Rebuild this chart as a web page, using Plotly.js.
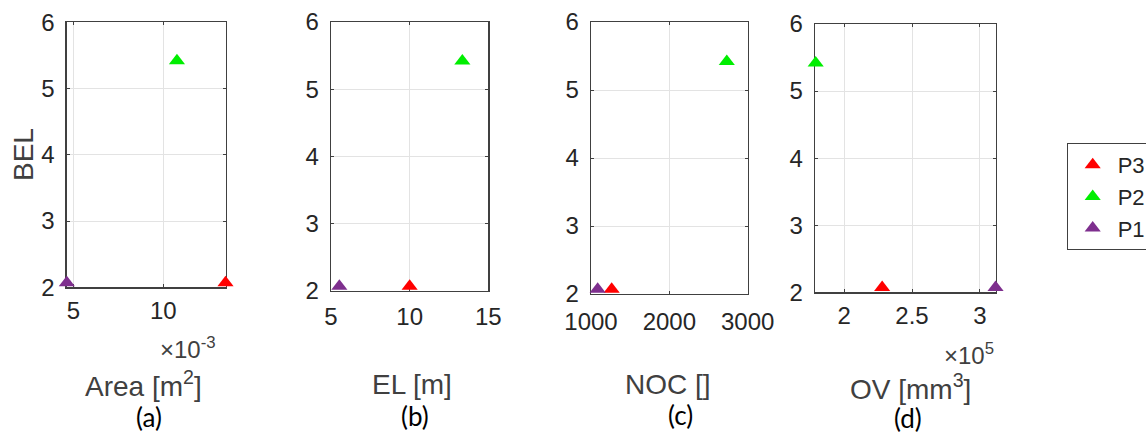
<!DOCTYPE html>
<html>
<head>
<meta charset="utf-8">
<script src="https://cdn.plot.ly/plotly-3.0.1.min.js"></script>
<style>html,body{margin:0;padding:0;background:#fff;}#chart{width:1146px;height:434px;}</style>
</head>
<body>
<div id="chart"></div>
<script>
// ---- data ----
const seriesNames = ['P3', 'P2', 'P1'];
const seriesColors = ['#ff0000', '#00ee00', '#7e2f8e'];
const bel = [2.07, 5.42, 2.07];
const area = [0.01346, 0.01076, 0.00464];     // m^2
const el = [10.0, 13.35, 5.53];               // m
const noc = [1264, 2733, 1085];               // []
const ov = [228000, 179000, 311600];          // mm^3
const yTicks = [2, 3, 4, 5, 6];
const areaTickVals = [0.005, 0.010];
const areaTickText = ['5', '10'];
const elTicks = [5, 10, 15];
const nocTicks = [1000, 2000, 3000];
const ovTickVals = [200000, 250000, 300000];
const ovTickText = ['2', '2.5', '3'];
const xTitles = ['Area [m<sup>2</sup>]', 'EL [m]', 'NOC []', 'OV [mm<sup>3</sup>]'];
const panelLabels = ['(a)', '(b)', '(c)', '(d)'];
const yTitle = 'BEL';

// ---- layout geometry (pixels) ----
const W = 1146, H = 434;
const px = v => v / W;
const py = v => 1 - v / H;
const boxes = [
  {x0: 66.7, x1: 225.7, y0: 22.3, y1: 287.3},
  {x0: 331,  x1: 488.3, y0: 22,   y1: 291},
  {x0: 591,  x1: 747.7, y0: 22,   y1: 294},
  {x0: 815,  x1: 995.7, y0: 24,   y1: 292.3}
];
const xData = [area, el, noc, ov];

const traces = [];
for (let p = 0; p < 4; p++) {
  for (let s = 0; s < seriesNames.length; s++) {
    traces.push({
      type: 'scatter', mode: 'markers',
      x: [xData[p][s]], y: [bel[s]],
      name: seriesNames[s],
      showlegend: p === 0,
      xaxis: p === 0 ? 'x' : 'x' + (p + 1),
      yaxis: p === 0 ? 'y' : 'y' + (p + 1),
      cliponaxis: false,
      marker: {symbol: 'triangle-up', size: 14, color: seriesColors[s], line: {width: 0}}
    });
  }
}

const tickFont = {family: 'Liberation Sans, Arial, sans-serif', size: 24, color: '#262626'};
const baseAxis = {
  showline: true, linecolor: '#404040', linewidth: 1.3, mirror: 'ticks',
  ticks: 'inside', ticklen: 3, tickcolor: '#404040', tickwidth: 1,
  showgrid: true, gridcolor: '#e3e3e3', gridwidth: 1,
  zeroline: false, tickfont: tickFont, fixedrange: true, layer: 'below traces'
};
const xRanges = [[0.004633, 0.01347], [5, 15], [1000, 3000], [178500, 311700]];
const xTickSpec = [
  {tickmode: 'array', tickvals: areaTickVals, ticktext: areaTickText},
  {tickmode: 'array', tickvals: elTicks, ticktext: elTicks.map(String)},
  {tickmode: 'array', tickvals: nocTicks, ticktext: nocTicks.map(String)},
  {tickmode: 'array', tickvals: ovTickVals, ticktext: ovTickText}
];
const xStandoff = [2, 4, 6, 2];

const layout = {
  width: W, height: H,
  margin: {l: 0, r: 0, t: 0, b: 0, autoexpand: false},
  paper_bgcolor: '#ffffff', plot_bgcolor: '#ffffff',
  showlegend: true,
  legend: {
    x: px(1066.7), y: py(143), xanchor: 'left', yanchor: 'top',
    bordercolor: '#404040', borderwidth: 1, bgcolor: '#ffffff',
    font: {family: 'Liberation Sans, Arial, sans-serif', size: 22, color: '#262626'},
    traceorder: 'normal', itemwidth: 40
  },
  annotations: []
};

for (let p = 0; p < 4; p++) {
  const b = boxes[p];
  const xk = p === 0 ? 'xaxis' : 'xaxis' + (p + 1);
  const yk = p === 0 ? 'yaxis' : 'yaxis' + (p + 1);
  const yref = p === 0 ? 'y' : 'y' + (p + 1);
  const xref = p === 0 ? 'x' : 'x' + (p + 1);
  layout[xk] = Object.assign({}, baseAxis, xTickSpec[p], {
    domain: [px(b.x0), px(b.x1)], range: xRanges[p], anchor: yref,
    ticklabelstandoff: xStandoff[p]
  });
  layout[yk] = Object.assign({}, baseAxis, {
    domain: [py(b.y1), py(b.y0)], range: [2, 6], anchor: xref,
    tickmode: 'array', tickvals: yTicks, ticktext: yTicks.map(String),
    ticklabelstandoff: 6
  });
}

const titleFont = {family: 'Liberation Sans, Arial, sans-serif', size: 28, color: '#404040'};
const expFont = {family: 'Liberation Sans, Arial, sans-serif', size: 24, color: '#404040'};
const labelFont = {family: 'Lato, Carlito, sans-serif', size: 26, color: '#000000'};
const titlePos = [[143, 384], [412, 384], [668, 384], [910, 387]];
const labelPos = [[149, 417], [415, 416], [680, 415], [908, 418]];
for (let p = 0; p < 4; p++) {
  layout.annotations.push({
    xref: 'paper', yref: 'paper', x: px(titlePos[p][0]), y: py(titlePos[p][1]),
    xanchor: 'center', yanchor: 'middle', showarrow: false, borderpad: 0,
    text: xTitles[p], font: titleFont
  });
  layout.annotations.push({
    xref: 'paper', yref: 'paper', x: px(labelPos[p][0]), y: py(labelPos[p][1]),
    xanchor: 'center', yanchor: 'middle', showarrow: false, borderpad: 0,
    text: panelLabels[p], font: labelFont
  });
}
// exponent labels
layout.annotations.push({
  xref: 'paper', yref: 'paper', x: px(218), y: py(348), xanchor: 'right', yanchor: 'middle',
  showarrow: false, text: '\u00d710<sup>-3</sup>', font: expFont
});
layout.annotations.push({
  xref: 'paper', yref: 'paper', x: px(996), y: py(354), xanchor: 'right', yanchor: 'middle',
  showarrow: false, text: '\u00d710<sup>5</sup>', font: expFont
});
// y title
layout.annotations.push({
  xref: 'paper', yref: 'paper', x: px(23), y: py(155), xanchor: 'center', yanchor: 'middle',
  showarrow: false, text: yTitle, textangle: -90, font: titleFont
});

Plotly.newPlot('chart', traces, layout, {staticPlot: true, displayModeBar: false});
</script>
</body>
</html>
